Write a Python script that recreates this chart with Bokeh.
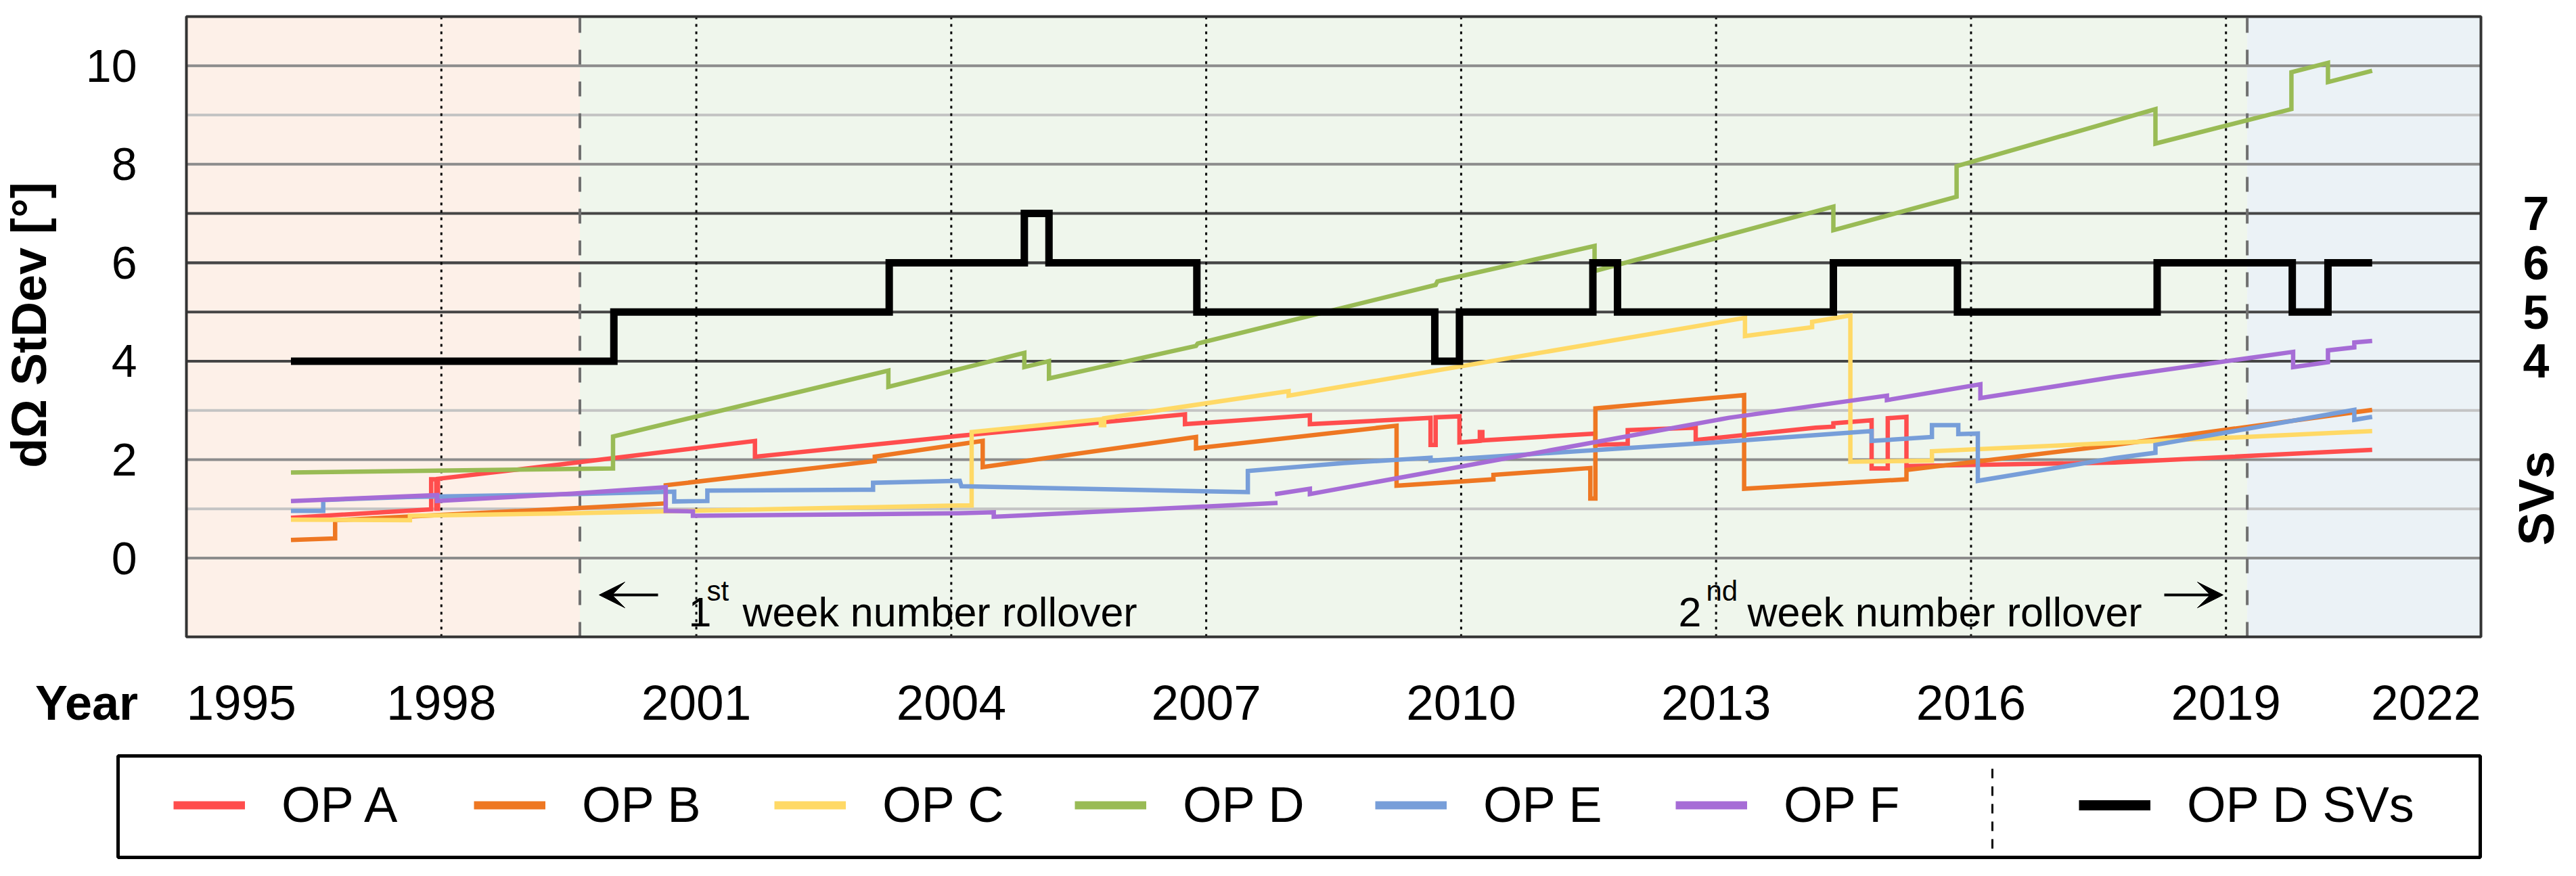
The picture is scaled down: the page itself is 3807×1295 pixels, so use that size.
import math
from bokeh.plotting import figure
from bokeh.models import (Range1d, BoxAnnotation, Label, Arrow, VeeHead, Legend, LegendItem)
from bokeh.core.properties import value
from bokeh.embed import file_html
from bokeh.resources import INLINE

NAN = float("nan")

# ---------------- data ----------------
YEAR_TICKS = [1998, 2001, 2004, 2007, 2010, 2013, 2016, 2019]
EDGE_YEARS = [1995, 2022]
Y_LIMITS = [-1.6, 11]
Y_TICKS = [0, 2, 4, 6, 8, 10]
Y_MINOR = [1, 3, 9]
SV_TICKS = [4, 5, 6, 7]
ROLLOVERS = [1999.63, 2019.25]
ERA_COLORS = ["#fdf0e8", "#eff6ec", "#ebf2f6"]

OPA_X = [1996.23, 1997.88, 1997.88, 1997.94, 1997.94, 1997.96, 1997.96, 1999.54, 2001.69, 2001.69,
         2004.08, 2006.75, 2006.75, 2008.22, 2008.22, 2009.64, 2009.64, 2009.70, 2009.70, 2009.98,
         2009.98, 2010.22, 2010.22, 2010.25, 2010.25, 2011.58, 2011.58, 2011.96, 2011.96, 2012.76,
         2012.76, 2014.17, 2014.38, 2014.38, 2014.83, 2014.83, 2015.02, 2015.02, 2015.24, 2015.24,
         2017.69, 2020.72]
OPA_Y = [0.82, 0.99, 1.60, 1.60, 1.00, 1.00, 1.61, 1.93, 2.38, 2.06,
         2.48, 2.92, 2.72, 2.90, 2.72, 2.85, 2.30, 2.30, 2.86, 2.88,
         2.35, 2.38, 2.56, 2.56, 2.39, 2.53, 2.30, 2.32, 2.60, 2.65,
         2.40, 2.65, 2.67, 2.74, 2.80, 1.82, 1.82, 2.84, 2.87, 1.87,
         1.94, 2.20]

OPB_X = [1996.23, 1996.75, 1996.75, 1999.54, 2000.64, 2000.64, 2003.10, 2003.10, 2004.37, 2004.37,
         2006.88, 2006.88, 2009.24, 2009.24, 2010.38, 2010.38, 2011.52, 2011.52, 2011.58, 2011.58,
         2013.33, 2013.33, 2015.24, 2015.24, 2017.69, 2020.72]
OPB_Y = [0.37, 0.40, 0.77, 1.01, 1.11, 1.48, 1.97, 2.06, 2.38, 1.85,
         2.46, 2.23, 2.69, 1.47, 1.60, 1.69, 1.83, 1.21, 1.21, 3.04,
         3.31, 1.41, 1.60, 1.79, 2.30, 3.01]

OPC_X = [1996.23, 1997.63, 1997.63, 1999.54, 2004.08, 2004.24, 2004.24, 2005.76, 2005.76, 2005.80,
         2005.80, 2007.97, 2007.97, 2008.62, 2013.34, 2013.34, 2014.13, 2014.13, 2014.58, 2014.58,
         2015.54, 2015.54, 2017.69, 2020.72]
OPC_Y = [0.78, 0.77, 0.86, 0.91, 1.07, 1.07, 2.56, 2.82, 2.70, 2.70,
         2.84, 3.39, 3.30, 3.49, 4.88, 4.51, 4.69, 4.80, 4.93, 1.96,
         1.98, 2.17, 2.34, 2.58]

OPD_X = [1996.23, 2000.02, 2000.02, 2003.26, 2003.26, 2004.86, 2004.86, 2005.15, 2005.15, 2006.88,
         2006.90, 2009.70, 2009.72, 2011.57, 2011.57, 2014.38, 2014.38, 2015.83, 2015.83, 2018.17,
         2018.17, 2019.77, 2019.77, 2020.20, 2020.20, 2020.72]
OPD_Y = [1.74, 1.82, 2.47, 3.81, 3.48, 4.17, 3.88, 4.00, 3.65, 4.31,
         4.36, 5.55, 5.62, 6.34, 5.83, 7.14, 6.66, 7.34, 7.96, 9.12,
         8.42, 9.12, 9.87, 10.06, 9.67, 9.90]

OPE_X = [1996.23, 1996.61, 1996.61, 1997.60, 1999.54, 2000.74, 2000.74, 2001.13, 2001.13, 2003.08,
         2003.08, 2004.10, 2004.12, 2007.49, 2007.49, 2008.62, 2009.64, 2009.64, 2013.15, 2014.83,
         2014.83, 2015.54, 2015.54, 2015.85, 2015.85, 2016.08, 2016.08, 2017.69, 2018.17, 2018.17,
         2020.51, 2020.51, 2020.72]
OPE_Y = [0.96, 0.96, 1.18, 1.24, 1.30, 1.35, 1.15, 1.16, 1.37, 1.39,
         1.53, 1.57, 1.46, 1.34, 1.77, 1.93, 2.04, 1.98, 2.37, 2.58,
         2.38, 2.46, 2.70, 2.70, 2.52, 2.53, 1.57, 2.03, 2.14, 2.30,
         3.01, 2.81, 2.87]

OPF_X = [1996.23, 1997.95, 1997.95, 1999.54, 2000.64, 2000.64, 2000.96, 2000.96, 2004.08, 2004.50,
         2004.50, 2007.84, NAN, 2007.81, 2008.22, 2008.22, 2013.15, 2015.01, 2015.01, 2016.11,
         2016.11, 2017.69, 2019.79, 2019.79, 2020.20, 2020.20, 2020.51, 2020.51, 2020.72]
OPF_Y = [1.16, 1.28, 1.16, 1.31, 1.44, 0.96, 0.95, 0.86, 0.91, 0.93,
         0.84, 1.12, NAN, 1.30, 1.41, 1.30, 2.85, 3.30, 3.21, 3.53,
         3.25, 3.68, 4.19, 3.88, 3.98, 4.22, 4.28, 4.38, 4.41]

SV_YEARS = [1996.23, 2000.03, 2003.27, 2004.86, 2005.15, 2006.89, 2009.69, 2009.98, 2011.55, 2011.84,
            2014.38, 2015.84, 2018.19, 2019.78, 2020.20, 2020.72]
SV_COUNT = [4, 5, 6, 7, 6, 5, 4, 5, 6, 5, 6, 5, 6, 5, 6, 6]

NAMES = ["OP A", "OP B", "OP C", "OP D", "OP E", "OP F"]
SV_NAME = "OP D SVs"
COLORS = ["#ff4d4d", "#ee7722", "#ffd966", "#99bb55", "#779ed9", "#a66cd6"]
SERIES_X = [OPA_X, OPB_X, OPC_X, OPD_X, OPE_X, OPF_X]
SERIES_Y = [OPA_Y, OPB_Y, OPC_Y, OPD_Y, OPE_Y, OPF_Y]

FONT = "Liberation Sans"

# ---------------- layout geometry (page pixels) ----------------
W, H = 3791, 1279           # canvas size; page margin 8 px
FRAME_L, FRAME_R = 283, 3674  # page x of 1995 and 2022
FRAME_T, FRAME_B = 32, 949    # page y of 11 and -1.6
PXY = (FRAME_R - FRAME_L) / (EDGE_YEARS[1] - EDGE_YEARS[0])
PYU = (FRAME_B - FRAME_T) / (Y_LIMITS[1] - Y_LIMITS[0])


def px(page_x):
    return EDGE_YEARS[0] + (page_x - FRAME_L) / PXY


def py(page_y):
    return Y_LIMITS[1] - (page_y - FRAME_T) / PYU


p = figure(width=W, height=H, x_range=Range1d(px(8), px(8 + W)), y_range=Range1d(py(8 + H), py(8)),
           output_backend="svg", toolbar_location=None, x_axis_location=None, y_axis_location=None,
           min_border=0, outline_line_color=None,
           background_fill_color="white", border_fill_color="white")
for g in p.grid:
    g.visible = False

# era backgrounds
bounds = [EDGE_YEARS[0]] + ROLLOVERS + [EDGE_YEARS[1]]
for i, c in enumerate(ERA_COLORS):
    p.add_layout(BoxAnnotation(left=bounds[i], right=bounds[i + 1], bottom=Y_LIMITS[0], top=Y_LIMITS[1],
                               fill_color=c, fill_alpha=1.0, line_alpha=0, level="image"))

# horizontal grid lines
def hgrid(vals, color):
    p.segment(x0=[EDGE_YEARS[0]] * len(vals), x1=[EDGE_YEARS[1]] * len(vals), y0=vals, y1=vals,
              line_color=color, line_width=4, level="underlay")

hgrid(Y_MINOR, "#c4c4c4")
hgrid(Y_TICKS, "#8c8c8c")
hgrid(SV_TICKS, "#454545")

# vertical dotted year lines
p.segment(x0=YEAR_TICKS, x1=YEAR_TICKS, y0=[Y_LIMITS[0]] * len(YEAR_TICKS), y1=[Y_LIMITS[1]] * len(YEAR_TICKS),
          line_color="black", line_width=3, line_dash="4 7", level="underlay")
# rollover dashed lines
p.segment(x0=ROLLOVERS, x1=ROLLOVERS, y0=[Y_LIMITS[0]] * 2, y1=[Y_LIMITS[1]] * 2,
          line_color="#707070", line_width=4, line_dash="22 25", level="underlay")

# data lines
for xs, ys, c in zip(SERIES_X, SERIES_Y, COLORS):
    p.line(xs, ys, line_color=c, line_width=6.5, line_join="miter")
p.step(SV_YEARS, SV_COUNT, mode="after", line_color="black", line_width=11, line_join="miter")

# plot frame
p.add_layout(BoxAnnotation(left=EDGE_YEARS[0], right=EDGE_YEARS[1], bottom=Y_LIMITS[0], top=Y_LIMITS[1],
                           fill_alpha=0, line_color="#333333", line_alpha=1.0, line_width=4,
                           level="annotation"))

# ---------------- axis texts ----------------
BASE = py(1046)
p.text(x=YEAR_TICKS, y=[BASE] * len(YEAR_TICKS), text=[str(v) for v in YEAR_TICKS],
       text_align="center", text_baseline="alphabetic", text_font=value(FONT),
       text_font_size=value("73px"), text_color="black")
p.text(x=[EDGE_YEARS[0]], y=[BASE], text=[str(EDGE_YEARS[0])], text_align="left",
       text_baseline="alphabetic", text_font=value(FONT), text_font_size=value("73px"), text_color="black")
p.text(x=[EDGE_YEARS[1]], y=[BASE], text=[str(EDGE_YEARS[1])], text_align="right",
       text_baseline="alphabetic", text_font=value(FONT), text_font_size=value("73px"), text_color="black")
p.text(x=[px(210)] * len(Y_TICKS), y=Y_TICKS, text=[str(v) for v in Y_TICKS], text_align="right",
       text_baseline="middle", text_font=value(FONT), text_font_size=value("68px"), text_color="black")
p.text(x=[px(3736)] * len(SV_TICKS), y=SV_TICKS, text=[str(v) for v in SV_TICKS], text_align="left",
       text_baseline="middle", text_font=value(FONT), text_font_size=value("70px"),
       text_font_style="bold", text_color="black")

p.add_layout(Label(x=px(135.5), y=BASE, text="Year", text_align="center", text_baseline="alphabetic",
                   text_font=FONT, text_font_size="72px", text_font_style="bold", text_color="black"))
p.add_layout(Label(x=px(50), y=py(488), text="dΩ StDev [°]", angle=math.pi / 2, text_align="center",
                   text_baseline="middle", text_font=FONT, text_font_size="72px",
                   text_font_style="bold", text_color="black"))
p.add_layout(Label(x=px(3756), y=py(744), text="SVs", angle=math.pi / 2, text_align="center",
                   text_baseline="middle", text_font=FONT, text_font_size="74px",
                   text_font_style="bold", text_color="black"))

# rollover notes
def note(x_num, x_sup, x_rest, num, sup):
    base, sup_base = py(912), py(881)
    p.add_layout(Label(x=px(x_num), y=base, text=num, text_baseline="alphabetic", text_font=FONT,
                       text_font_size="61px", text_color="black"))
    p.add_layout(Label(x=px(x_sup), y=sup_base, text=sup, text_baseline="alphabetic", text_font=FONT,
                       text_font_size="42px", text_color="black"))
    p.add_layout(Label(x=px(x_rest), y=base, text="week number rollover", text_baseline="alphabetic",
                       text_font=FONT, text_font_size="61px", text_color="black"))

note(1025, 1052, 1105, "1", "st")
note(2488, 2529, 2590, "2", "nd")

for xs, xe in [(980, 893), (3206, 3293)]:
    p.add_layout(Arrow(end=VeeHead(size=38, fill_color="black", line_color="black", line_width=1),
                       x_start=px(xs), y_start=py(887), x_end=px(xe), y_end=py(887),
                       line_width=4, line_color="black"))

# ---------------- legend ----------------
p.add_layout(BoxAnnotation(left=px(182), right=px(3673), bottom=py(1275), top=py(1125),
                           fill_color="white", fill_alpha=1.0, line_color="black", line_alpha=1.0,
                           line_width=5, level="underlay"))
p.segment(x0=[px(2952)], x1=[px(2952)], y0=[py(1262)], y1=[py(1138)], line_color="black",
          line_width=3, line_dash="14 12")

items = []
for name, xs, ys, c in zip(NAMES, SERIES_X, SERIES_Y, COLORS):
    proxy = p.line(xs, ys, line_color=c, line_width=12, visible=False)
    items.append(LegendItem(label=name, renderers=[proxy]))
sv_proxy = p.line(SV_YEARS, SV_COUNT, line_color="black", line_width=15, visible=False)

common = dict(orientation="horizontal", glyph_width=106, glyph_height=60, label_standoff=54,
              label_text_font=FONT, label_text_font_size="74px", label_text_color="black",
              border_line_color=None, background_fill_alpha=0, padding=0, margin=0,
              label_height=60, inactive_fill_alpha=0)
leg1 = Legend(items=items, location=(264 - 8, 47), spacing=94, label_width=190, **common)
leg2 = Legend(items=[LegendItem(label=SV_NAME, renderers=[sv_proxy])], location=(3080 - 8, 47), **common)
p.add_layout(leg1)
p.add_layout(leg2)

open("out.html", "w").write(file_html(p, INLINE))
